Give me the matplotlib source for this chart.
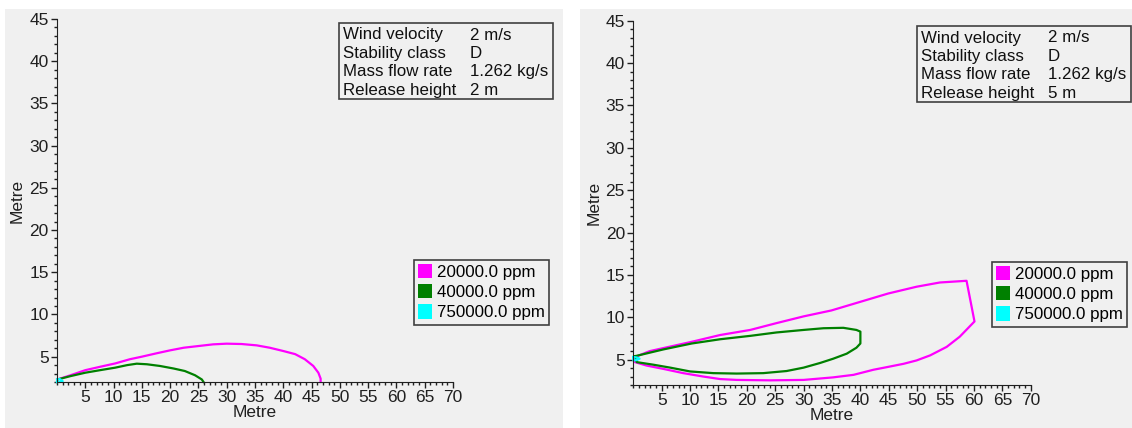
import matplotlib
matplotlib.use('Agg')
import matplotlib.pyplot as plt
from matplotlib.patches import Rectangle, Patch

plt.rcParams['font.family'] = ['Liberation Sans', 'DejaVu Sans']

W, H = 1132, 428

# level names / colours
levels = ['20000.0 ppm', '40000.0 ppm', '750000.0 ppm']
level_colors = ['#ff00ff', '#008000', '#00ffff']

info_keys = ['Wind velocity', 'Stability class', 'Mass flow rate', 'Release height']
info_left = ['2 m/s', 'D', '1.262 kg/s', '2 m']
info_right = ['2 m/s', 'D', '1.262 kg/s', '5 m']

# release height 2 m
l_mag_x = [0.1, 2.4, 5, 7.6, 10.3, 12.9, 15, 17.6, 20, 22.4, 25, 27.6, 30, 32.6, 35.3,
           37.6, 40, 42.1, 43.8, 45.3, 46.2, 46.6, 46.6]
l_mag_y = [2.3, 2.8, 3.4, 3.8, 4.2, 4.7, 5.0, 5.4, 5.75, 6.06, 6.26, 6.46, 6.54, 6.5, 6.34,
           6.06, 5.67, 5.3, 4.7, 3.9, 3.1, 2.4, 2.0]
l_grn_x = [0.1, 2.4, 5, 7.6, 10.3, 12.4, 14.1, 15.9, 18.2, 20.6, 22.6, 24.4, 25.6, 25.9]
l_grn_y = [2.3, 2.7, 3.1, 3.4, 3.7, 4.0, 4.17, 4.1, 3.9, 3.6, 3.3, 2.8, 2.3, 2.0]
l_cyn_x = [0.0, 0.5, 1.0, 0.5, 0.0]
l_cyn_y = [2.3, 2.35, 2.1, 2.0, 2.0]

# release height 5 m
r_mag_x = [0.3, 2.9, 10.3, 15.3, 20.6, 25.2, 30, 34.9, 39.9, 44.9, 49.9, 54, 58.7, 60.1,
           57.5, 55.2, 52.3, 49.9, 47.6, 44.6, 42.3, 38.8, 35.2, 30, 24.1, 18.2, 15.3,
           12.3, 8.8, 5.3, 2.3, 0.3, 0.3]
r_mag_y = [5.3, 6.0, 7.1, 7.9, 8.5, 9.3, 10.1, 10.8, 11.8, 12.8, 13.6, 14.1, 14.3, 9.5,
           7.7, 6.5, 5.5, 4.9, 4.5, 4.1, 3.8, 3.2, 2.9, 2.6, 2.55, 2.6, 2.7,
           3.0, 3.4, 3.9, 4.3, 4.7, 5.3]
r_grn_x = [0.3, 5.3, 10.3, 15.3, 20.6, 25.2, 30, 33.5, 37, 39.3, 40, 40, 39.3, 37.6, 35.2,
           32.9, 30, 27, 22.9, 18.2, 14.1, 10, 6.5, 3.5, 0.6, 0.3]
r_grn_y = [5.4, 6.2, 6.9, 7.4, 7.8, 8.2, 8.5, 8.7, 8.75, 8.5, 8.3, 6.9, 6.4, 5.7, 5.1,
           4.6, 4.05, 3.65, 3.4, 3.35, 3.4, 3.6, 4.05, 4.4, 4.7, 5.4]
r_cyn_x = [0.0, 0.6, 1.1, 0.6, 0.0, 0.0]
r_cyn_y = [5.3, 5.25, 5.1, 4.95, 4.9, 5.3]


def fx(px):
    return px / W


def fy(py):
    return 1 - py / H


fig = plt.figure(figsize=(W / 100, H / 100), dpi=100)
fig.patch.set_facecolor('white')

# grey panels
for x0, x1 in [(5, 563), (580, 1132)]:
    fig.patches.append(Rectangle((fx(x0), 0), fx(x1 - x0), fy(9), transform=fig.transFigure,
                                 facecolor='#f0f0f0', edgecolor='none', zorder=-10))


def panel(ax_px, curves, info, box_px, leg_px):
    x0, x1, ytop, ybot = ax_px
    ax = fig.add_axes([fx(x0), fy(ybot), fx(x1 - x0), (ybot - ytop) / H])
    ax.set_facecolor('none')
    for xs, ys, c in curves:
        ax.plot(xs, ys, color=c, lw=1.6, clip_on=False, solid_joinstyle='round')
    ax.set_xlim(0, 70)
    ax.set_ylim(2, 45)
    ax.set_xticks(range(5, 71, 5))
    ax.set_xticks(range(0, 71, 1), minor=True)
    ax.set_yticks(range(5, 46, 5))
    ax.set_yticks(range(2, 46, 1), minor=True)
    ax.tick_params(which='major', direction='out', length=4, width=1, labelsize=12.5,
                   colors='#202020', pad=2)
    ax.tick_params(which='minor', direction='out', length=2.5, width=1, colors='#202020')
    for s in ['top', 'right']:
        ax.spines[s].set_visible(False)
    for s in ['left', 'bottom']:
        ax.spines[s].set_color('#202020')
    ax.set_xlabel('Metre', fontsize=12.5, labelpad=0, color='#202020')
    ax.set_ylabel('Metre', fontsize=12.5, labelpad=3, color='#202020')

    # info box
    bx0, bx1, by0, by1 = box_px
    fig.patches.append(Rectangle((fx(bx0), fy(by1)), fx(bx1 - bx0), (by1 - by0) / H,
                                 transform=fig.transFigure, facecolor='none',
                                 edgecolor='#404040', lw=1.2, zorder=5))
    for i, (k, v) in enumerate(zip(info_keys, info)):
        yy = by0 + 12 + i * 18.4
        fig.text(fx(bx0 + 4), fy(yy), k, fontsize=12.2, va='center', ha='left', color='#101010')
        fig.text(fx(bx0 + 131), fy(yy), v, fontsize=12.2, va='center', ha='left', color='#101010')

    # legend
    lx, ly = leg_px
    handles = [Patch(facecolor=c, edgecolor='none', label=l) for c, l in zip(level_colors, levels)]
    leg = ax.legend(handles=handles, loc='upper left', bbox_to_anchor=(fx(lx), fy(ly)),
                    bbox_transform=fig.transFigure, fontsize=12.2, frameon=True, fancybox=False,
                    framealpha=1, facecolor='#f0f0f0', edgecolor='#404040', borderaxespad=0,
                    borderpad=0.25, handlelength=0.8, handleheight=0.9, handletextpad=0.3,
                    labelspacing=0.25)
    leg.get_frame().set_linewidth(1.2)
    return ax


panel((57, 453, 19, 382),
      [(l_mag_x, l_mag_y, level_colors[0]), (l_grn_x, l_grn_y, level_colors[1]),
       (l_cyn_x, l_cyn_y, level_colors[2])],
      info_left, (339, 553, 23, 99), (414, 260))
panel((633.3, 1030.7, 20.7, 385),
      [(r_mag_x, r_mag_y, level_colors[0]), (r_grn_x, r_grn_y, level_colors[1]),
       (r_cyn_x, r_cyn_y, level_colors[2])],
      info_right, (916.6, 1131, 26, 102), (992, 262))

fig.savefig('out.png', dpi=100)
